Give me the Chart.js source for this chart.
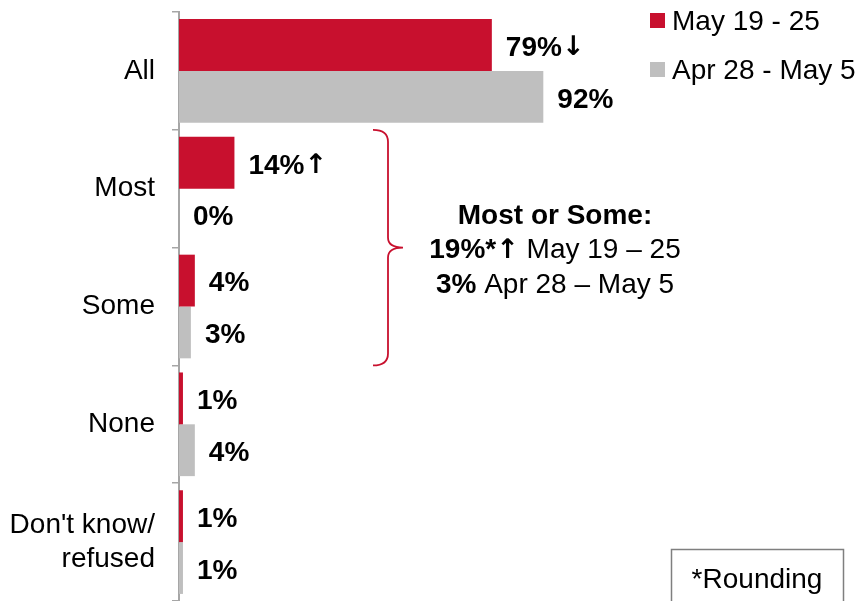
<!DOCTYPE html>
<html>
<head>
<meta charset="utf-8">
<script src="https://cdn.jsdelivr.net/npm/chart.js@4/dist/chart.umd.min.js"></script>
<style>
  body { margin: 0; background: #fff; }
</style>
</head>
<body>
<canvas id="chart" width="865" height="601"></canvas>
<script>
var categories = ['All', 'Most', 'Some', 'None', ["Don't know/", 'refused']];
var seriesNames = ['May 19 - 25', 'Apr 28 - May 5'];
var mayValues = [79, 14, 4, 1, 1];
var aprValues = [92, 0, 3, 4, 1];
var mayMarks = ['\u2193', '\u2191', '', '', ''];
var aprMarks = ['', '', '', '', ''];

var red = '#C8102E';
var gray = '#BFBFBF';
var axisGray = '#A6A6A6';
var fontName = '"Liberation Sans", Arial, sans-serif';
var arrowFont = 'bold 27px "DejaVu Sans", sans-serif';

var noteTitle = 'Most or Some:';
var noteLines = [['19%*', '\u2191', ' May 19 \u2013 25'], ['3%', '', ' Apr 28 \u2013 May 5']];
var footnote = '*Rounding';

// bold text followed by an optional heavier arrow glyph
function boldWithArrow(ctx, text, mark, x, y) {
    ctx.font = 'bold 28px ' + fontName;
    ctx.fillText(text, x, y);
    var w = ctx.measureText(text).width;
    if (mark) {
        ctx.font = arrowFont;
        ctx.fillText(mark, x + w, y);
        w += ctx.measureText(mark).width;
    }
    return w;
}

var extras = {
    id: 'extras',
    afterDatasetsDraw: function(chart) {
        var ctx = chart.ctx;
        var y = chart.scales.y;
        ctx.save();

        // value labels at the end of each bar
        ctx.fillStyle = '#000';
        ctx.textAlign = 'left';
        ctx.textBaseline = 'middle';
        var marks = [mayMarks, aprMarks];
        chart.data.datasets.forEach(function(ds, i) {
            chart.getDatasetMeta(i).data.forEach(function(bar, j) {
                boldWithArrow(ctx, ds.data[j] + '%', marks[i][j], Math.max(bar.x, bar.base) + 14, bar.y + 3);
            });
        });

        // legend
        ctx.font = '28px ' + fontName;
        [red, gray].forEach(function(c, i) {
            var ly = 22 + i * 49;
            ctx.fillStyle = c;
            ctx.fillRect(650, ly - 9, 15, 15);
            ctx.fillStyle = '#000';
            ctx.fillText(seriesNames[i], 672, ly);
        });

        // bracket over Most + Some
        var half = (y.getPixelForValue(1) - y.getPixelForValue(0)) / 2;
        var top = y.getPixelForValue(1) - half;
        var bot = y.getPixelForValue(2) + half;
        var mid = (top + bot) / 2;
        var bx = 388;
        ctx.strokeStyle = red;
        ctx.lineWidth = 1.8;
        ctx.beginPath();
        ctx.moveTo(373, top);
        ctx.quadraticCurveTo(bx, top, bx, top + 12);
        ctx.lineTo(bx, mid - 10);
        ctx.quadraticCurveTo(bx, mid, bx + 15, mid);
        ctx.quadraticCurveTo(bx, mid, bx, mid + 10);
        ctx.lineTo(bx, bot - 12);
        ctx.quadraticCurveTo(bx, bot, 373, bot);
        ctx.stroke();

        // annotation text
        var cx = 555;
        ctx.fillStyle = '#000';
        ctx.textAlign = 'center';
        ctx.font = 'bold 28px ' + fontName;
        ctx.fillText(noteTitle, cx, mid - 31);
        ctx.textAlign = 'left';
        noteLines.forEach(function(parts, k) {
            var ty = mid + 3 + k * 35;
            ctx.font = 'bold 28px ' + fontName;
            var w1 = ctx.measureText(parts[0]).width;
            ctx.font = arrowFont;
            if (parts[1]) w1 += ctx.measureText(parts[1]).width;
            ctx.font = '28px ' + fontName;
            var w2 = ctx.measureText(parts[2]).width;
            var x0 = cx - (w1 + w2) / 2;
            boldWithArrow(ctx, parts[0], parts[1], x0, ty);
            ctx.font = '28px ' + fontName;
            ctx.fillText(parts[2], x0 + w1, ty);
        });

        // footnote box
        ctx.strokeStyle = '#7F7F7F';
        ctx.lineWidth = 1.5;
        ctx.strokeRect(671.5, 549.5, 172, 60);
        ctx.textAlign = 'center';
        ctx.font = '28px ' + fontName;
        ctx.fillText(footnote, 757, 580);

        ctx.restore();
    }
};

new Chart(document.getElementById('chart'), {
    type: 'bar',
    data: {
        labels: categories,
        datasets: [
            { label: seriesNames[0], data: mayValues, backgroundColor: red },
            { label: seriesNames[1], data: aprValues, backgroundColor: gray }
        ]
    },
    options: {
        indexAxis: 'y',
        responsive: false,
        animation: false,
        layout: { padding: { top: 12, right: 290, bottom: 0, left: 0 } },
        datasets: { bar: { categoryPercentage: 0.88, barPercentage: 1 } },
        scales: {
            x: { display: false, min: 0, max: 100 },
            y: {
                afterFit: function(scale) {
                    scale.width = 179;
                    scale.paddingTop = 0;
                    scale.paddingBottom = 0;
                },
                grid: { drawOnChartArea: false, tickLength: 7, color: axisGray, lineWidth: 1.5 },
                border: { color: axisGray, width: 2 },
                ticks: {
                    color: '#000',
                    padding: 17,
                    font: { family: fontName, size: 28, lineHeight: 1.22 }
                }
            }
        },
        plugins: {
            legend: { display: false },
            tooltip: { enabled: false }
        }
    },
    plugins: [extras]
});
</script>
</body>
</html>
